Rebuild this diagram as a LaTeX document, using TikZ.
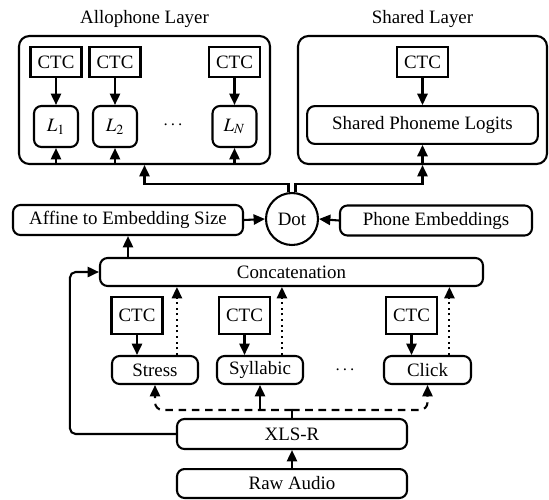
\documentclass[tikz,border=0pt]{standalone}
\usepackage{mathptmx}
\usepackage{fontspec}
\setmainfont{Liberation Serif}
\usetikzlibrary{arrows.meta,positioning}
\tikzset{ctcbox/.style = {draw, line width=1.1pt, rectangle, inner sep=0pt, minimum width=27pt, minimum height=15.9pt},
         roundbox/.style = {draw, line width=1.1pt, rectangle, rounded corners=4pt, inner sep=0pt, minimum height=15.9pt},
         layerbox/.style = {draw, line width=1.1pt, rectangle, rounded corners=5.5pt, inner sep=0pt, minimum width=132.8pt, minimum height=67.7pt},
         dotnode/.style = {draw, line width=1.1pt, circle, inner sep=0pt, minimum size=27.5pt},
         flow/.style = {line width=1.1pt, -{Triangle[length=6pt,width=5.4pt]}}}

\begin{document}
\begin{tikzpicture}[x=0.529pt,y=-0.529pt]
    \useasboundingbox (0,0) rectangle (549,499);
    % allophone layer
    \node[layerbox](allo)at(144.5,100){};
    \node(allotitle)at(144.5,18.5){Allophone Layer};
    \node[ctcbox](ctca)at(56,62){CTC};
    \node[ctcbox](ctcb)at(115,62){CTC};
    \node[ctcbox](ctcn)at(234.5,62){CTC};
    \node[roundbox, minimum width=23.3pt, minimum height=21.7pt](la)at(56,126.5){$L_1$};
    \node[roundbox, minimum width=23.3pt, minimum height=21.7pt](lb)at(115,126.5){$L_2$};
    \node(ldots)at(173,125){$\cdots$};
    \node[roundbox, minimum width=23.3pt, minimum height=21.7pt](ln)at(234.5,126.5){$L_N$};
    % shared layer
    \node[layerbox, minimum width=131.7pt](shared)at(422.5,100){};
    \node(sharedtitle)at(422.5,18.5){Shared Layer};
    \node[ctcbox](ctcs)at(422.5,62){CTC};
    \node[roundbox, minimum width=122pt, minimum height=20pt](logits)at(422.5,125){Shared Phoneme Logits};
    % embeddings
    \node[dotnode](dot)at(292,219){Dot};
    \node[roundbox, minimum width=121.7pt](affine)at(128,220){Affine to Embedding Size};
    \node[roundbox, minimum width=101.6pt](phone)at(436,220.5){Phone Embeddings};
    \node[roundbox, minimum width=202.6pt, minimum height=14.8pt](concat)at(291.5,272){Concatenation};
    % feature heads
    \node[ctcbox, minimum height=19.6pt](ctcst)at(137,315.5){CTC};
    \node[ctcbox, minimum height=19.6pt](ctcsy)at(244.5,315.5){CTC};
    \node[ctcbox, minimum height=19.6pt](ctccl)at(411.5,315.5){CTC};
    \node[roundbox, minimum width=45.5pt, minimum height=14.8pt](stress)at(155,370){Stress};
    \node[roundbox, minimum width=45.5pt, minimum height=14.8pt](syll)at(260,370){Syllabic};
    \node(fdots)at(345,370){$\cdots$};
    \node[roundbox, minimum width=46pt, minimum height=14.8pt](click)at(427.5,370){Click};
    \node[roundbox, minimum width=121.7pt](xlsr)at(292,434){XLS-R};
    \node[roundbox, minimum width=121.7pt, minimum height=15.3pt](raw)at(292,483.5){Raw Audio};
    \coordinate(split)at(292,410);

    \foreach \c/\l in {ctca/la, ctcb/lb, ctcn/ln}{
        \draw[flow](\c.south)--(\l.north);
        \draw[flow](\l.south |- allo.south)--(\l.south);
    }
    \draw[flow](ctcs.south)--(logits.north);
    \draw[flow](logits.south |- shared.south)--(logits.south);
    \draw[flow]([xshift=-1.85pt]dot.north)--++(0,-8)-|(allo.south);
    \draw[flow]([xshift=1.85pt]dot.north)--++(0,-8)-|(shared.south);
    \draw[flow](affine.east)--(dot.west);
    \draw[flow](phone.west)--(dot.east);
    \draw[flow](affine.south |- concat.north)--(affine.south);
    \foreach \c/\b in {ctcst/stress, ctcsy/syll, ctccl/click}{
        \draw[flow](\c.south)--(\c.south |- \b.north);
        \draw[flow, dash pattern=on 1pt off 2pt]([xshift=11.6pt]\b.north)--([xshift=11.6pt]\b.north |- concat.south);
    }
    \draw[line width=1.1pt](xlsr.north)--(split);
    \draw[flow, dash pattern=on 4pt off 3pt, rounded corners=4pt](split)-|(stress.south);
    \draw[flow, dash pattern=on 4pt off 3pt, rounded corners=4pt](split)-|(click.south);
    \draw[flow](syll.south |- split)--(syll.south);
    \draw[flow, rounded corners=3pt](xlsr.west)--++(-106,0)|-(concat.west);
    \draw[flow](raw.north)--(xlsr.south);
\end{tikzpicture}
\end{document}
